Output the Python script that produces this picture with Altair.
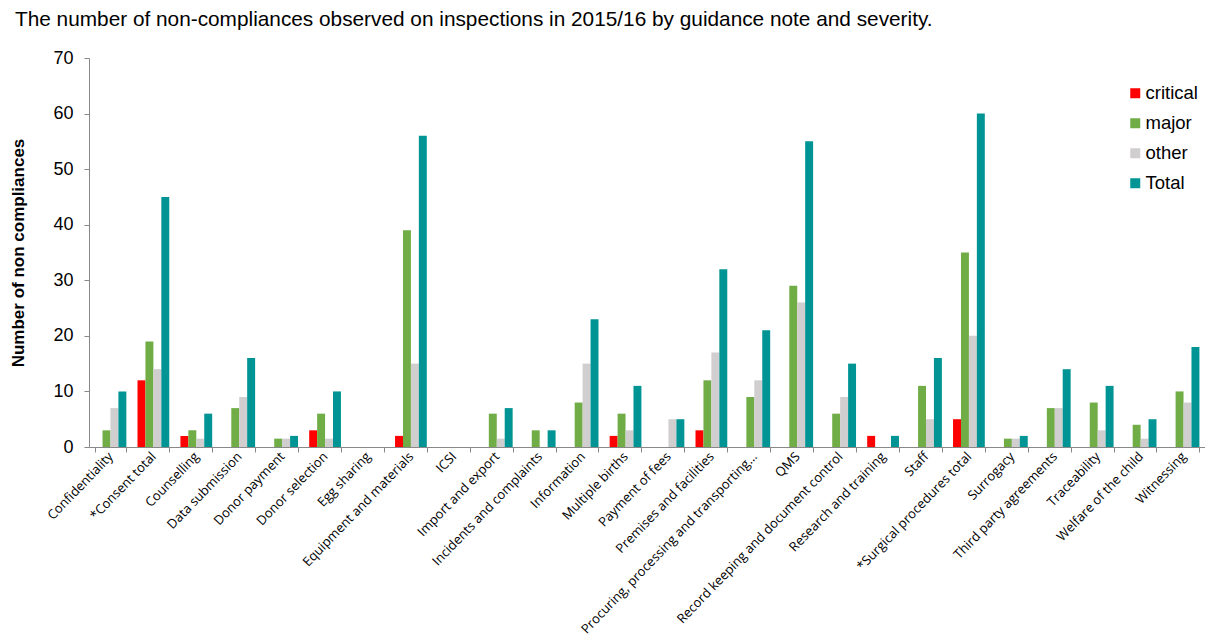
import altair as alt
import pandas as pd

categories = [
    "Confidentiality", "*Consent total", "Counselling", "Data submission",
    "Donor payment", "Donor selection", "Egg sharing", "Equipment and materials",
    "ICSI", "Import and export", "Incidents and complaints", "Information",
    "Multiple births", "Payment of fees", "Premises and facilities",
    "Procuring, processing and transporting…", "QMS",
    "Record keeping and document control", "Research and training", "Staff",
    "*Surgical procedures total", "Surrogacy", "Third party agreements",
    "Traceability", "Welfare of the child", "Witnessing",
]
critical = [0, 12, 2, 0, 0, 3, 0, 2, 0, 0, 0, 0, 2, 0, 3, 0, 0, 0, 2, 0, 5, 0, 0, 0, 0, 0]
major = [3, 19, 3, 7, 1.5, 6, 0, 39, 0, 6, 3, 8, 6, 0, 12, 9, 29, 6, 0, 11, 35, 1.5, 7, 8, 4, 10]
other = [7, 14, 1.5, 9, 1.5, 1.5, 0, 15, 0, 1.5, 0, 15, 3, 5, 17, 12, 26, 9, 0, 5, 20, 1.5, 7, 3, 1.5, 8]
total = [10, 45, 6, 16, 2, 10, 0, 56, 0, 7, 3, 23, 11, 5, 32, 21, 55, 15, 2, 16, 60, 2, 14, 11, 5, 18]

series_names = ["critical", "major", "other", "Total"]
series_colors = ["#FF0000", "#70AD47", "#D0CECE", "#009494"]

rows = []
for name, vals in zip(series_names, [critical, major, other, total]):
    for c, v in zip(categories, vals):
        rows.append({"category": c, "severity": name, "value": v})
df = pd.DataFrame(rows)

chart = alt.Chart(df).mark_bar().encode(
    x=alt.X("category:N", sort=categories,
            scale=alt.Scale(paddingInner=0.26, paddingOuter=0.13),
            axis=alt.Axis(title=None, labelAngle=-46, labelFont="Open Sans",
                          labelFontSize=13, labelColor="#000000", labelPadding=2,
                          tickBand="extent", tickSize=5, tickColor="#888888",
                          domainColor="#888888", labelLimit=400)),
    xOffset=alt.XOffset("severity:N", sort=series_names,
                        scale=alt.Scale(paddingInner=0, paddingOuter=0)),
    y=alt.Y("value:Q", scale=alt.Scale(domain=[0, 70]),
            axis=alt.Axis(values=[0, 10, 20, 30, 40, 50, 60, 70], grid=False,
                          title="Number of non compliances", titleFontSize=17,
                          titleFont="Liberation Sans", titleFontWeight="bold",
                          titleColor="#000000", titlePadding=25,
                          labelFont="Liberation Sans", labelFontSize=18,
                          labelColor="#000000", labelPadding=11,
                          tickSize=5, tickColor="#888888", domainColor="#888888")),
    color=alt.Color("severity:N", sort=series_names,
                    scale=alt.Scale(domain=series_names, range=series_colors),
                    legend=alt.Legend(title=None, orient="none", legendX=1037, legendY=26,
                                      symbolType="square", symbolSize=100,
                                      symbolStrokeWidth=0, labelFontSize=18.5,
                                      labelFont="Liberation Sans", labelColor="#000000",
                                      rowPadding=11, labelOffset=1)),
).properties(
    width=1116,
    height=389,
    padding={"left": 81, "top": 50, "right": 0, "bottom": 192},
    autosize=alt.AutoSizeParams(type="none"),
    title=alt.TitleParams(
        "The number of non-compliances observed on inspections in 2015/16 by guidance note and severity.",
        anchor="start", frame="group", dx=-74, offset=18, fontSize=20.8, font="Liberation Sans",
        fontWeight="normal", color="#000000"),
).configure_view(stroke=None)

chart.save("out.html", embed_options={"renderer": "svg", "actions": False})
